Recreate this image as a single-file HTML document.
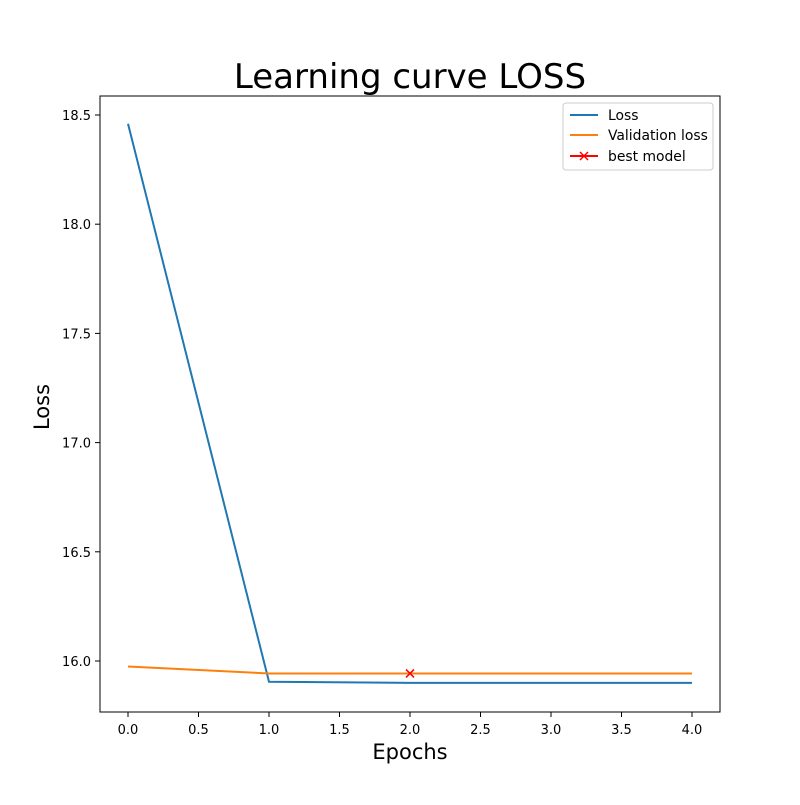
<!DOCTYPE html>
<html><head><meta charset="utf-8"><style>
body{margin:0;background:#fff;}
svg text{font-family:"DejaVu Sans","Liberation Sans",sans-serif;}
</style></head><body>
<svg id="chart" width="800" height="800" viewBox="0 0 800 800">
<rect width="800" height="800" fill="#fff"/>
<text x="410" y="88" font-size="34" text-anchor="middle">Learning curve LOSS</text>
<g id="grid"></g>
<g id="series"></g>
<rect x="100" y="96" width="620" height="616" fill="none" stroke="#000" stroke-width="1"/>
<text x="410" y="759" font-size="21" text-anchor="middle">Epochs</text>
<text x="49" y="407" font-size="21" text-anchor="middle" transform="rotate(-90 49 407)">Loss</text>
<g>
<rect x="563" y="103" width="150" height="67" rx="3" fill="#fff" stroke="#ccc"/>
<g><line x1="570" y1="115" x2="598" y2="115" stroke="#1f77b4" stroke-width="2"/><text x="608" y="120" font-size="13.9">Loss</text></g>
<g><line x1="570" y1="135" x2="598" y2="135" stroke="#ff7f0e" stroke-width="2"/><text x="608" y="140" font-size="13.9">Validation loss</text></g>
<g><line x1="570" y1="156" x2="598" y2="156" stroke="red" stroke-width="2"/><path d="M580,152 l8,8 M588,152 l-8,8" stroke="red" stroke-width="1.5"/><text x="608" y="161" font-size="13.9">best model</text></g>
</g>
</svg>
<script>
const epochs=[0,1,2,3,4];
const lossValues=[18.46,15.905,15.90,15.90,15.90];
const valLossValues=[15.975,15.943,15.943,15.943,15.943];
const bestEpoch=[2];
const bestValue=[15.943];
const xTicks=[0.0,0.5,1.0,1.5,2.0,2.5,3.0,3.5,4.0];
const yTicks=[16.0,16.5,17.0,17.5,18.0,18.5];
const NS="http://www.w3.org/2000/svg";
const xs=v=>128+v*141;
const ys=v=>661-(v-16.0)*218.4;
const grid=document.getElementById('grid'),series=document.getElementById('series');
function mk(t,a,p){const e=document.createElementNS(NS,t);for(const k in a)e.setAttribute(k,a[k]);p.appendChild(e);return e;}
xTicks.forEach(t=>{
 const g=mk('g',{},grid);
 
 
 mk('line',{x1:xs(t),x2:xs(t),y1:712,y2:717,stroke:'#000'},g);
 const tx=mk('text',{x:xs(t),y:734,'font-size':13,'text-anchor':'middle'},g);tx.textContent=t.toFixed(1);
});
yTicks.forEach(t=>{
 const g=mk('g',{},grid);
 
 
 mk('line',{x1:95,x2:100,y1:ys(t),y2:ys(t),stroke:'#000'},g);
 const tx=mk('text',{x:91,y:ys(t)+5,'font-size':13,'text-anchor':'end'},g);tx.textContent=t.toFixed(1);
});
const l1=mk('polyline',{points:epochs.map((e,i)=>xs(e)+','+ys(lossValues[i])).join(' '),fill:'none',stroke:'#1f77b4','stroke-width':2},series);


const l2=mk('polyline',{points:epochs.map((e,i)=>xs(e)+','+ys(valLossValues[i])).join(' '),fill:'none',stroke:'#ff7f0e','stroke-width':2},series);


bestEpoch.forEach((e,i)=>{
 const x=xs(e),y=ys(bestValue[i]);
 const m=mk('path',{d:`M${x-4},${y-4} L${x+4},${y+4} M${x+4},${y-4} L${x-4},${y+4}`,stroke:'red','stroke-width':1.5},series);
 
 
});
</script>
</body></html>
